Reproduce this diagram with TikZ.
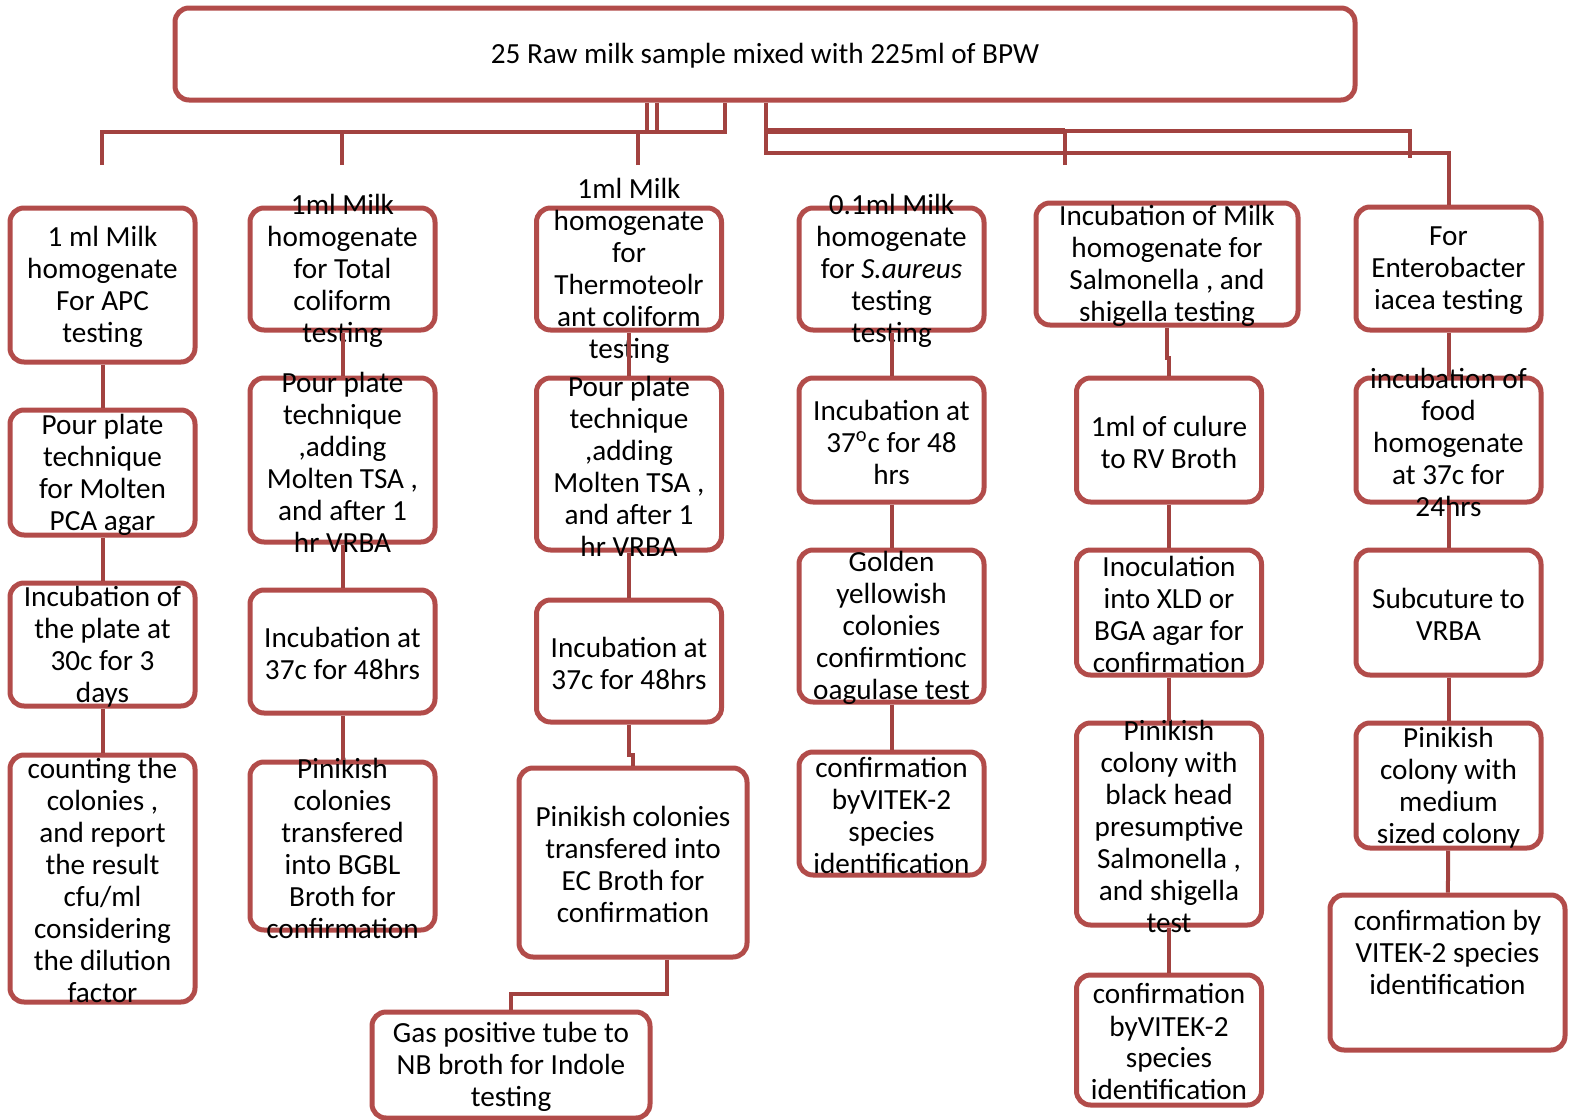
\documentclass[tikz,border=0pt]{standalone}
\usepackage{fontspec}
\setmainfont{Carlito}
\definecolor{boxred}{RGB}{178,76,74}
\definecolor{linered}{RGB}{162,66,64}

\begin{document}
\begin{tikzpicture}[x=0.5pt,y=-0.5pt,
    stage/.style={draw=boxred, line width=2.5pt, rounded corners=7pt, minimum width=92.5pt, inner sep=0pt},
    txt/.style={align=center, inner sep=0pt, yshift=-1pt, font=\fontsize{14.6}{16}\selectfont},
    link/.style={draw=linered, line width=2pt}]
    \useasboundingbox (0,0) rectangle (1571,1120);

    \node[stage, minimum width=590pt, minimum height=46pt] (top) at (765,54) {};

    \node[stage, minimum height=77pt] (a1) at (102.5,285) {};
    \node[stage, minimum height=62.5pt] (a2) at (102.5,472.5) {};
    \node[stage, minimum height=61.5pt] (a3) at (102.5,644.5) {};
    \node[stage, minimum height=123.5pt] (a4) at (102.5,878.5) {};

    \node[stage, minimum height=61pt] (b1) at (342.5,269) {};
    \node[stage, minimum height=82pt] (b2) at (342.5,460) {};
    \node[stage, minimum height=61.5pt] (b3) at (342.5,651.5) {};
    \node[stage, minimum height=84pt] (b4) at (342.5,846) {};

    \node[stage, minimum height=61pt] (c1) at (629,269) {};
    \node[stage, minimum height=86pt] (c2) at (629,464) {};
    \node[stage, minimum height=61pt] (c3) at (629,661) {};
    \node[stage, minimum width=114pt, minimum height=94.5pt] (c4) at (633,862.5) {};
    \node[stage, minimum width=139pt, minimum height=53pt] (c5) at (511,1065) {};

    \node[stage, minimum height=61pt] (d1) at (891.5,269) {};
    \node[stage, minimum height=62pt] (d2) at (891.5,440) {};
    \node[stage, minimum height=76pt] (d3) at (891.5,626) {};
    \node[stage, minimum height=61.5pt] (d4) at (891.5,813.5) {};

    \node[stage, minimum width=131pt, minimum height=61pt] (e1) at (1167,264) {};
    \node[stage, minimum height=62pt] (e2) at (1169,440) {};
    \node[stage, minimum height=62.5pt] (e3) at (1169,612.5) {};
    \node[stage, minimum height=101pt] (e4) at (1169,824) {};
    \node[stage, minimum height=65pt] (e5) at (1169,1040) {};

    \node[stage, minimum height=61.5pt] (f1) at (1448.5,268.5) {};
    \node[stage, minimum height=62pt] (f2) at (1448.5,440) {};
    \node[stage, minimum height=62.5pt] (f3) at (1448.5,612.5) {};
    \node[stage, minimum height=62.5pt] (f4) at (1448.5,785.5) {};
    \node[stage, minimum width=117.5pt, minimum height=77.5pt] (f5) at (1447.5,972.5) {};

    \node[txt] (topt) at (top) {25 Raw milk sample mixed with 225ml of BPW};

    \node[txt] (a1t) at (a1) {1 ml Milk\\homogenate\\For APC\\testing};
    \node[txt] (a2t) at (a2) {Pour plate\\technique\\for Molten\\PCA agar};
    \node[txt] (a3t) at (a3) {Incubation of\\the plate at\\30c for 3\\days};
    \node[txt] (a4t) at (a4) {counting the\\colonies ,\\and report\\the result\\cfu/ml\\considering\\the dilution\\factor};

    \node[txt] (b1t) at (b1) {1ml Milk\\homogenate\\for Total\\coliform\\testing};
    \node[txt] (b2t) at (b2) {Pour plate\\technique\\,adding\\Molten TSA ,\\and after 1\\hr VRBA};
    \node[txt] (b3t) at (b3) {Incubation at\\37c for 48hrs};
    \node[txt] (b4t) at (b4) {Pinikish\\colonies\\transfered\\into BGBL\\Broth for\\confirmation};

    \node[txt] (c1t) at (c1) {1ml Milk\\homogenate\\for\\Thermoteolr\\ant coliform\\testing};
    \node[txt] (c2t) at (c2) {Pour plate\\technique\\,adding\\Molten TSA ,\\and after 1\\hr VRBA};
    \node[txt] (c3t) at (c3) {Incubation at\\37c for 48hrs};
    \node[txt] (c4t) at (c4) {Pinikish colonies\\transfered into\\EC Broth for\\confirmation};
    \node[txt] (c5t) at (c5) {Gas positive tube to\\NB broth for Indole\\testing};

    \node[txt] (d1t) at (d1) {0.1ml Milk\\homogenate\\for \textit{S.aureus}\\testing\\testing};
    \node[txt] (d2t) at (d2) {Incubation at\\37\textsuperscript{o}c for 48\\hrs};
    \node[txt] (d3t) at (d3) {Golden\\yellowish\\colonies\\confirmtionc\\oagulase test};
    \node[txt] (d4t) at (d4) {confirmation\\byVITEK-2\\species\\identification};

    \node[txt] (e1t) at (e1) {Incubation of Milk\\homogenate for\\Salmonella , and\\shigella testing};
    \node[txt] (e2t) at (e2) {1ml of culure\\to RV Broth};
    \node[txt] (e3t) at (e3) {Inoculation\\into XLD or\\BGA agar for\\confirmation};
    \node[txt] (e4t) at (e4) {Pinikish\\colony with\\black head\\presumptive\\Salmonella ,\\and shigella\\test};
    \node[txt] (e5t) at (e5) {confirmation\\byVITEK-2\\species\\identification};

    \node[txt] (f1t) at (f1) {For\\Enterobacter\\iacea testing};
    \node[txt] (f2t) at (f2) {incubation of\\food\\homogenate\\at 37c for\\24hrs};
    \node[txt] (f3t) at (f3) {Subcuture to\\VRBA};
    \node[txt] (f4t) at (f4) {Pinikish\\colony with\\medium\\sized colony};
    \node[txt] (f5t) at (1447.5,950) {confirmation by\\VITEK-2 species\\identification};

    \coordinate (aTop) at (102,165);
    \coordinate (bTop) at (342,165);
    \coordinate (cTop) at (638,165);
    \coordinate (eTop) at (1065,165);
    \coordinate (xTop) at (1410,158);
    \coordinate (rBus) at (766,131);

    \draw[link] (aTop) |- (725,132) -- (top.south -| 725,0);
    \draw[link] (bTop) -- (bTop |- 0,132);
    \draw[link] (cTop) -- (cTop |- 0,132);
    \draw[link] (top.south -| 647,0) -- (647,132);
    \draw[link] (top.south -| 657,0) -- (657,132);
    \draw[link] (top.south -| 766,0) |- (f1.north |- 0,153) -- (f1.north);
    \draw[link] (rBus) -| (xTop);
    \draw[link, line width=3pt] (rBus) -- (eTop |- rBus);
    \draw[link] (eTop) -- (eTop |- rBus);

    \draw[link] (a1) -- (a2);
    \draw[link] (a2) -- (a3);
    \draw[link] (a3) -- (a4);
    \draw[link] (b1) -- (b2);
    \draw[link] (b2) -- (b3);
    \draw[link] (b3) -- (b4);
    \draw[link] (c1) -- (c2);
    \draw[link] (c2) -- (c3);
    \draw[link] (c3.south) -- ++(0,30) -| (c4.north);
    \draw[link] ([xshift=17pt]c4.south) -- ++(0,34) -| (c5.north);
    \draw[link] (d1) -- (d2);
    \draw[link] (d2) -- (d3);
    \draw[link] (d3) -- (d4);
    \draw[link] (e1.south) -- ++(0,30) -| (e2.north);
    \draw[link] (e2) -- (e3);
    \draw[link] (e3) -- (e4);
    \draw[link] (e4) -- (e5);
    \draw[link] (f1) -- (f2);
    \draw[link] (f2) -- (f3);
    \draw[link] (f3) -- (f4);
    \draw[link] (f4) -- (f5);
\end{tikzpicture}
\end{document}
